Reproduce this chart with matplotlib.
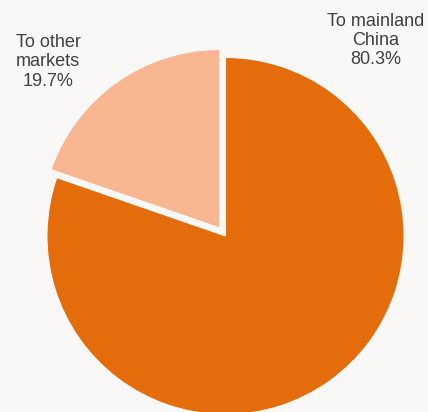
import matplotlib.pyplot as plt

plt.rcParams['font.family'] = ['Liberation Sans', 'DejaVu Sans']

# export destinations, share of total (%)
markets = ["To other\nmarkets", "To mainland\nChina"]
shares = [19.7, 80.3]
colours = ["#F8B691", "#E46C0A"]
explode = [0.055, 0]

bg = "#F9F8F6"
fig = plt.figure(figsize=(4.28, 4.12), dpi=100, facecolor=bg)
ax = fig.add_axes([0, 0, 1, 1])
ax.set_facecolor(bg)

ax.pie(shares, colors=colours, explode=explode, startangle=90,
       counterclock=True, radius=1,
       wedgeprops=dict(edgecolor=bg, linewidth=0.8))

# where each label sits (data units, pie radius = 1)
label_pos = [(-0.994, 0.975), (0.843, 1.095)]
for name, val, (x, y) in zip(markets, shares, label_pos):
    ax.text(x, y, f"{name}\n{val:.1f}%", ha="center", va="center",
            fontsize=13, color="#404040", linespacing=1.17)

ax.set_xlim(-1.263, 1.134)
ax.set_ylim(-0.986, 1.322)
ax.set_aspect("auto")
ax.axis("off")

fig.savefig("out.png", dpi=100, facecolor=bg)
